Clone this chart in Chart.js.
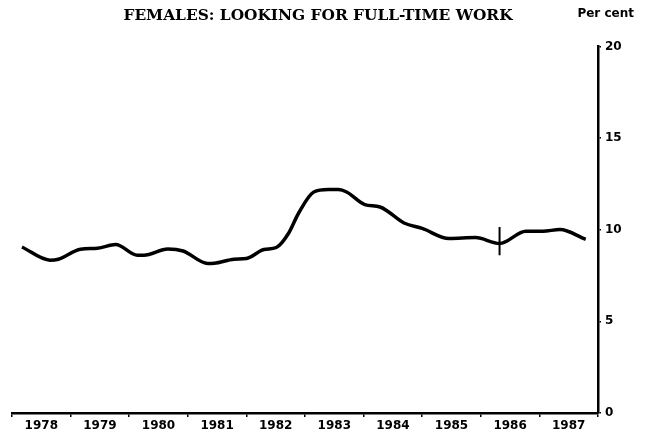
<!DOCTYPE html>
<html>
<head>
<meta charset="utf-8">
<script src="https://cdn.jsdelivr.net/npm/chart.js@4"></script>
<style>
  body { margin: 0; background: #fff; }
  canvas { display: block; }
</style>
</head>
<body>
<canvas id="chart" width="649" height="436"></canvas>
<script>
const years = ['1978', '1979', '1980', '1981', '1982', '1983', '1984', '1985', '1986', '1987'];
const trendX = [1978.17, 1978.65, 1978.79, 1979.17, 1979.46, 1979.77, 1980.14, 1980.25, 1980.66, 1980.92,
                1981.34, 1981.45, 1981.79, 1982.00, 1982.30, 1982.51, 1982.72, 1982.89, 1983.15, 1983.40,
                1983.57, 1983.71, 1984.02, 1984.28, 1984.69, 1985.00, 1985.46, 1985.91, 1986.32, 1986.77,
                1987.06, 1987.35, 1987.79];
const trendY = [9.06, 8.34, 8.39, 8.94, 8.99, 9.19, 8.61, 8.61, 8.95, 8.84,
                8.16, 8.17, 8.39, 8.43, 8.92, 9.03, 9.81, 10.90, 12.06, 12.19,
                12.19, 12.06, 11.37, 11.24, 10.37, 10.07, 9.52, 9.57, 9.25, 9.92,
                9.92, 10.01, 9.48];
// series break marker
const breakX = [1986.32, 1986.32];
const breakY = [10.15, 8.61];
const yTicks = [0, 5, 10, 15, 20];

const perCent = {
    id: 'perCent',
    afterDraw(chart) {
        const ctx = chart.ctx;
        ctx.save();
        ctx.font = 'bold 12px "DejaVu Sans"';
        ctx.fillStyle = '#000';
        ctx.textAlign = 'right';
        ctx.fillText('Per cent', 634, 17);
        ctx.restore();
    }
};

new Chart(document.getElementById('chart'), {
    type: 'line',
    data: {
        datasets: [{
            data: trendX.map((x, i) => ({ x: x, y: trendY[i] })),
            borderColor: '#000',
            borderWidth: 3.5,
            pointRadius: 0,
            tension: 0.4,
            cubicInterpolationMode: 'monotone'
        }, {
            data: breakX.map((x, i) => ({ x: x, y: breakY[i] })),
            borderColor: '#000',
            borderWidth: 2,
            pointRadius: 0
        }]
    },
    options: {
        responsive: false,
        animation: false,
        layout: { padding: { left: 12, right: 25, top: 0, bottom: 0 } },
        plugins: {
            legend: { display: false },
            tooltip: { enabled: false },
            title: {
                display: true,
                text: 'FEMALES: LOOKING FOR FULL-TIME WORK',
                color: '#000',
                font: { family: 'DejaVu Serif', size: 15.4, weight: 'bold' },
                padding: { top: 7, bottom: 21 }
            }
        },
        scales: {
            x: {
                type: 'linear',
                min: 1978,
                max: 1988,
                afterBuildTicks: (axis) => {
                    const t = [];
                    for (let i = 0; i <= years.length * 2; i++) t.push({ value: 1978 + i / 2 });
                    axis.ticks = t;
                },
                afterFit: (axis) => { axis.height = 23; },
                ticks: {
                    color: '#000',
                    autoSkip: false,
                    maxRotation: 0,
                    padding: 2,
                    font: { family: 'DejaVu Sans', size: 12, weight: 'bold' },
                    callback: (v) => (v % 1 === 0.5 ? years[Math.floor(v) - 1978] : '')
                },
                grid: {
                    drawOnChartArea: false,
                    tickLength: 4,
                    color: (c) => (c.tick && c.tick.value % 1 === 0 ? '#000' : 'rgba(0,0,0,0)'),
                    lineWidth: 1.5
                },
                border: { color: '#000', width: 2.5 }
            },
            y: {
                position: 'right',
                min: 0,
                max: 20,
                afterBuildTicks: (axis) => { axis.ticks = yTicks.map(v => ({ value: v })); },
                afterFit: (axis) => { axis.width = 26; },
                ticks: {
                    color: '#000',
                    padding: 4,
                    font: { family: 'DejaVu Sans', size: 12, weight: 'bold' }
                },
                grid: { drawOnChartArea: false, tickLength: 3, color: '#000', lineWidth: 1.5 },
                border: { color: '#000', width: 2.5 }
            }
        }
    },
    plugins: [perCent]
});
</script>
</body>
</html>
